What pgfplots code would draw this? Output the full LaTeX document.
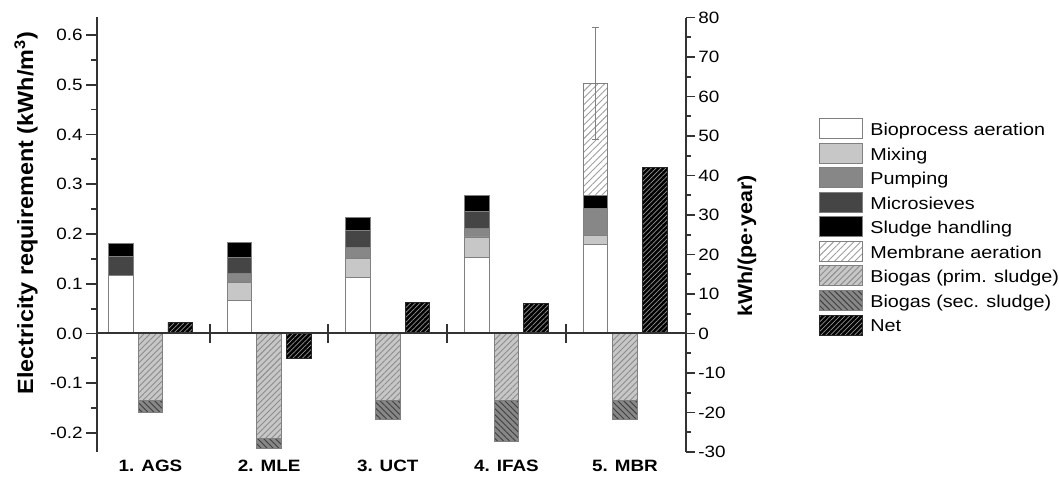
\documentclass[border=0pt]{standalone}
\usepackage{fontspec}
\setmainfont{Liberation Sans}[FakeStretch=1.15]
\usepackage{graphicx}
\usepackage{pgfplots}
\pgfplotsset{compat=1.18}
\usetikzlibrary{patterns.meta}

\definecolor{edge}{gray}{0.5}
\definecolor{mixc}{gray}{0.78}
\definecolor{pumpc}{gray}{0.53}
\definecolor{microc}{gray}{0.27}
\definecolor{axc}{gray}{0.2}

\newcommand\tickfont{\fontsize{8.2}{9}\selectfont}

\pgfplotsset{
  base/.style={
    at={(48.5pt,13pt)}, anchor=south west,
    scale only axis, width=294.5pt, height=217.25pt,
    xmin=0.549, xmax=5.514, ymin=-0.2381, ymax=0.6349,
    enlargelimits=false,
  },
  legbox/.style={/pgfplots/legend image code/.code={\draw[##1] (0pt,-5pt) rectangle (21.5pt,5pt);}},
}

\tikzset{
  membrane/.style={fill=white, draw=edge, postaction={pattern={Lines[angle=45,distance=2.4pt,line width=0.45pt]}, pattern color=gray!75}},
  primsl/.style={fill=mixc, draw=edge, postaction={pattern={Lines[angle=45,distance=2.1pt,line width=0.45pt]}, pattern color=gray!90}},
  secsl/.style={fill=pumpc, draw=edge, postaction={pattern={Lines[angle=-45,distance=2.1pt,line width=0.45pt]}, pattern color=black!75}},
  netb/.style={fill=black, draw=black!85, postaction={pattern={Lines[angle=45,distance=1.7pt,line width=0.35pt]}, pattern color=gray!85}},
}

\begin{document}
\begin{tikzpicture}
\path[use as bounding box] (0,0) rectangle (529.5pt,239pt);

% positive demand stacks, left axis, legend
\begin{axis}[
  base,
  ybar stacked, bar width=12.25pt,
  every axis plot post/.append style={legbox},
  axis y line*=left, axis x line*=bottom,
  x axis line style={draw=none},
  xtick={1,2,3,4,5},
  xticklabels={1. AGS, 2. MLE, 3. UCT, 4. IFAS, 5. MBR},
  xtick style={draw=none},
  xticklabel style={font=\tickfont\bfseries, inner sep=0pt, anchor=north, yshift=1.5pt},
  ytick={-0.2,-0.1,0,0.1,0.2,0.3,0.4,0.5,0.6},
  minor ytick={-0.15,-0.05,0.05,0.15,0.25,0.35,0.45,0.55},
  tick align=outside, major tick length=5.5pt, minor tick length=3pt,
  ytick style={line width=0.9pt, color=axc},
  minor tick style={line width=0.9pt, color=axc},
  y axis line style={line width=1.1pt, color=axc},
  yticklabel style={font=\tickfont, inner sep=1.5pt,
    /pgf/number format/.cd, fixed, fixed zerofill, precision=1, assume math mode=true},
  every axis y label/.style={at={(axis description cs:-0.1205,0.55)}, anchor=center, rotate=90},
  ylabel={\fontsize{11}{12}\selectfont\bfseries\scalebox{0.925}[1]{Electricity requirement (kWh/m\textsuperscript{3})}},
  legend cell align=left,
  legend style={at={(1.2258,0.7687)}, anchor=north west, draw=none, fill=none,
    inner sep=0pt, row sep=1.85pt,
    nodes={inner sep=0pt, text height=8.45pt, text depth=1.55pt},
    font=\fontsize{8.6}{10}\selectfont,
    /tikz/every odd column/.append style={column sep=3.5pt}},
]
\addplot[fill=white, draw=edge, legbox] coordinates {(0.75,0.117) (1.75,0.066) (2.75,0.112) (3.75,0.152) (4.75,0.179)};
\addplot[fill=mixc, draw=edge, legbox] coordinates {(0.75,0) (1.75,0.037) (2.75,0.038) (3.75,0.042) (4.75,0.018)};
\addplot[fill=pumpc, draw=edge, legbox] coordinates {(0.75,0) (1.75,0.017) (2.75,0.022) (3.75,0.017) (4.75,0.054)};
\addplot[fill=microc, draw=edge, legbox] coordinates {(0.75,0.037) (1.75,0.033) (2.75,0.035) (3.75,0.035) (4.75,0)};
\addplot[fill=black, draw=edge, legbox] coordinates {(0.75,0.027) (1.75,0.030) (2.75,0.027) (3.75,0.032) (4.75,0.027)};
\addplot[membrane, legbox] coordinates {(0.75,0) (1.75,0) (2.75,0) (3.75,0) (4.75,0.225)};
\addlegendimage{primsl, legbox}
\addlegendimage{secsl, legbox}
\addlegendimage{netb, legbox}
\legend{Bioprocess aeration, Mixing, Pumping, Microsieves, Sludge handling,
  Membrane aeration, Biogas (prim. sludge), Biogas (sec. sludge), Net}
\end{axis}

% biogas credits
\begin{axis}[base, ybar stacked, bar width=12.25pt, axis lines=none]
\addplot[primsl] coordinates {(1,-0.134) (2,-0.211) (3,-0.134) (4,-0.135) (5,-0.135)};
\addplot[secsl] coordinates {(1,-0.024) (2,-0.019) (3,-0.038) (4,-0.082) (5,-0.037)};
\end{axis}

% net, zero line, separators, error bar
\begin{axis}[
  base, axis on top,
  axis x line=middle, axis y line=none,
  x axis line style={-, line width=1pt, color=axc},
  xtick={1.5,2.5,3.5,4.5}, xticklabels={},
  major tick length=9.5pt, tick align=center,
  xtick style={line width=1pt, color=axc},
]
\addplot[ybar, bar width=12.25pt, bar shift=0pt, netb] coordinates {(1.25,0.023) (2.25,-0.051) (3.25,0.063) (4.25,0.061) (5.25,0.333)};
\addplot[draw=none, mark=none, forget plot,
  error bars/.cd, y dir=both, y explicit,
  error bar style={draw=gray, line width=0.5pt},
  error mark options={rotate=90, draw=gray, mark size=1.6pt, line width=0.5pt}]
  coordinates {(4.75,0.5015) +- (0,0.1125)};
\end{axis}

% right axis in kWh/(pe year)
\begin{axis}[
  base, ymin=-30, ymax=80,
  axis y line*=right, axis x line=none,
  ytick={-30,-20,-10,0,10,20,30,40,50,60,70,80},
  minor ytick={-25,-15,-5,5,15,25,35,45,55,65,75},
  tick align=outside, major tick length=4.5pt, minor tick length=2.5pt,
  ytick style={line width=0.9pt, color=axc},
  minor tick style={line width=0.9pt, color=axc},
  y axis line style={line width=1.1pt, color=axc},
  yticklabel style={font=\tickfont, inner sep=1.5pt, /pgf/number format/assume math mode=true},
  every axis y label/.style={at={(axis description cs:1.1036,0.474)}, anchor=center, rotate=90},
  ylabel={\fontsize{10}{12}\selectfont\bfseries\scalebox{0.93}[1]{kWh/(pe·year)}},
]
\addplot[draw=none] coordinates {(1,0)};
\end{axis}
\end{tikzpicture}
\end{document}
